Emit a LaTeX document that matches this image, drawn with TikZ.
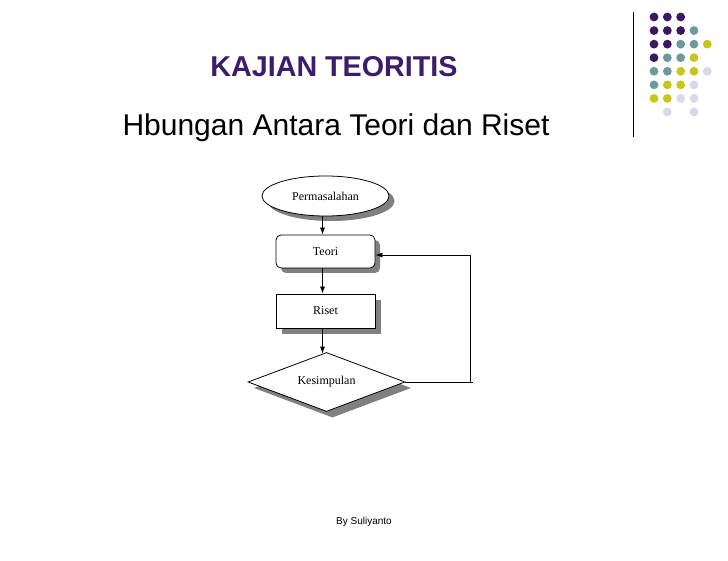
\documentclass[tikz,border=0pt]{standalone}
\usepackage{fontspec}
\setmainfont{Liberation Serif}
\newfontfamily\arialfont{Liberation Sans}
\usetikzlibrary{shapes.geometric,arrows.meta,calc}
\definecolor{titlepurple}{HTML}{3D1C6C}
\definecolor{dp}{HTML}{3B1860}
\definecolor{dt}{HTML}{6F9A9B}
\definecolor{dy}{HTML}{C6C61E}
\definecolor{dl}{HTML}{D8D8EA}
\definecolor{shadowgray}{HTML}{808080}
\tikzset{
  dot/.style={circle, inner sep=0pt, minimum size=8.8pt},
  shapeline/.style={draw=black, line width=0.8pt, fill=white, font=\fontsize{12}{14}\selectfont, inner sep=0pt},
  shadowfill/.style={fill=shadowgray, draw=none, inner sep=0pt},
  arr/.style={line width=0.8pt, -{Latex[length=7pt,width=5pt]}},
  conn/.style={line width=0.8pt}
}
\begin{document}
\begin{tikzpicture}[x=1pt,y=-1pt]
\useasboundingbox (0,0) rectangle (728,561);
\fill[white] (0,0) rectangle (728,561);
% decorative dots
\foreach \r/\c/\col in {
  0/0/dp,0/1/dp,0/2/dp,
  1/0/dp,1/1/dp,1/2/dp,1/3/dt,
  2/0/dp,2/1/dp,2/2/dt,2/3/dt,2/4/dy,
  3/0/dp,3/1/dt,3/2/dt,3/3/dy,
  4/0/dt,4/1/dt,4/2/dy,4/3/dy,4/4/dl,
  5/0/dt,5/1/dy,5/2/dy,5/3/dl,
  6/0/dy,6/1/dy,6/2/dl,6/3/dl,
  7/1/dl,7/3/dl}{
  \node[dot, fill=\col] (d\r\c) at ({654+13.33*\c},{17+13.57*\r}) {};
}
\draw[line width=1pt] (633,12) -- (633,137);
% titles
\node[anchor=base, text=titlepurple, font=\arialfont\bfseries\fontsize{28.7}{32}\selectfont] (title) at (334,77) {KAJIAN TEORITIS};
\node[anchor=base west, font=\arialfont\fontsize{30}{34}\selectfont] (subtitle) at (119,136) {Hbungan Antara Teori dan Riset};
% shadows
\node[ellipse, shadowfill, minimum width=127pt, minimum height=40pt] at (331,201) {};
\node[rectangle, rounded corners=5pt, shadowfill, minimum width=99pt, minimum height=33pt] at (330.5,256.5) {};
\node[rectangle, shadowfill, minimum width=99pt, minimum height=34pt] at (331.5,317) {};
\node[diamond, aspect=2.66, shadowfill, minimum width=157pt, minimum height=59pt] at (332.5,388) {};
% main shapes
\node[ellipse, shapeline, minimum width=127pt, minimum height=40pt] (perm) at (325.5,196) {Permasalahan};
\node[rectangle, rounded corners=5pt, shapeline, minimum width=99pt, minimum height=33pt] (teori) at (325.5,251.5) {Teori};
\node[rectangle, shapeline, minimum width=99pt, minimum height=34pt] (riset) at (325.5,311) {Riset};
\node[diamond, aspect=2.66, shapeline, minimum width=157pt, minimum height=59pt] (kes) at (326.5,382) {Kesimpulan};
% connectors
\draw[arr] ([xshift=-3pt]perm.south) -- ([xshift=-3pt]teori.north);
\draw[arr] ([xshift=-3pt]teori.south) -- ([xshift=-3pt]riset.north);
\draw[arr] ([xshift=-3pt]riset.south) -- ([xshift=-4pt,yshift=-1.5pt]kes.north);
\coordinate (fbend) at (473,382);
\coordinate (fbcorner) at (470,382);
\coordinate (fbtop) at (470,255);
\draw[conn] (kes.east) -- (fbend);
\draw[arr] (fbcorner) -- (fbtop) -- (teori.east |- fbtop);
% footer
\node[anchor=base, font=\arialfont\fontsize{10}{12}\selectfont] (footer) at (364,524) {By Suliyanto};
\end{tikzpicture}
\end{document}
